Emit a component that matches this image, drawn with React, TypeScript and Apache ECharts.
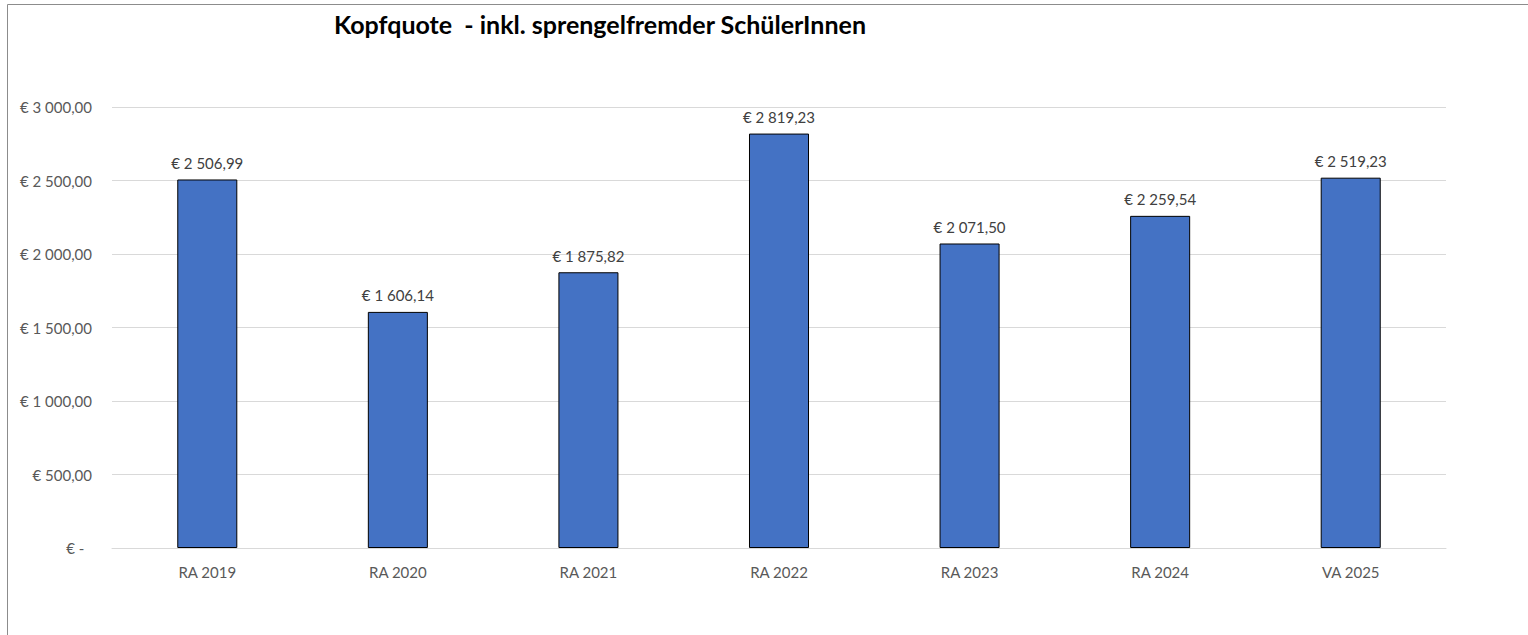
import React, { useEffect, useRef } from "react";
import * as echarts from "echarts";

const categories = ["RA 2019", "RA 2020", "RA 2021", "RA 2022", "RA 2023", "RA 2024", "VA 2025"];
const values = [2506.99, 1606.14, 1875.82, 2819.23, 2071.5, 2259.54, 2519.23];
const yTicks = [0, 500, 1000, 1500, 2000, 2500, 3000];
const titleText = "Kopfquote  - inkl. sprengelfremder SchülerInnen";

function fmtEuro(v: number): string {
  if (v === 0) return "€ -  ";
  const fixed = v.toFixed(2);
  const [intPart, dec] = fixed.split(".");
  const withSep = intPart.replace(/\B(?=(\d{3})+(?!\d))/g, " ");
  return "€ " + withSep + "," + dec;
}

const FONT = "Lato, 'Open Sans', sans-serif";

export default function App() {
  const ref = useRef<HTMLDivElement>(null);
  useEffect(() => {
    if (!ref.current) return;
    const chart = echarts.init(ref.current, undefined, { renderer: "svg" });
    chart.setOption({
      animation: false,
      backgroundColor: "#ffffff",
      textStyle: { fontFamily: FONT },
      graphic: [
        {
          type: "rect",
          shape: { x: 7.5, y: 4.5, width: 1540, height: 650 },
          style: { fill: "none", stroke: "#8c8c8c", lineWidth: 1 },
          silent: true,
        },
      ],
      title: {
        text: titleText,
        left: 595,
        textAlign: "center",
        top: 6,
        textStyle: { fontFamily: FONT, fontSize: 25, fontWeight: "bold", color: "#000000" },
      },
      grid: { left: 112, right: 82, top: 107, bottom: 87, containLabel: false },
      xAxis: {
        type: "category",
        data: categories,
        axisLine: { show: true, lineStyle: { color: "#d9d9d9", width: 1 } },
        axisTick: { show: false },
        axisLabel: { color: "#595959", fontSize: 15, margin: 16, fontFamily: FONT },
        splitLine: { show: false },
      },
      yAxis: {
        type: "value",
        min: yTicks[0],
        max: yTicks[yTicks.length - 1],
        interval: 500,
        axisLine: { show: false },
        axisTick: { show: false },
        axisLabel: {
          color: "#595959",
          fontSize: 15,
          margin: 20,
          fontFamily: FONT,
          formatter: (v: number) => fmtEuro(v),
        },
        splitLine: { lineStyle: { color: "#d9d9d9", width: 1 } },
      },
      series: [
        {
          type: "bar",
          data: values,
          barWidth: "31.5%",
          itemStyle: { color: "#4472C4", borderColor: "#000000", borderWidth: 1 },
          label: {
            show: true,
            position: "top",
            distance: 9,
            color: "#404040",
            fontSize: 15,
            fontFamily: FONT,
            formatter: (p: any) => fmtEuro(p.value),
          },
        },
      ],
    });
    return () => chart.dispose();
  }, []);
  return (
    <div
      ref={ref}
      style={{ position: "fixed", left: 0, top: 0, width: 1528, height: 635 }}
    />
  );
}
